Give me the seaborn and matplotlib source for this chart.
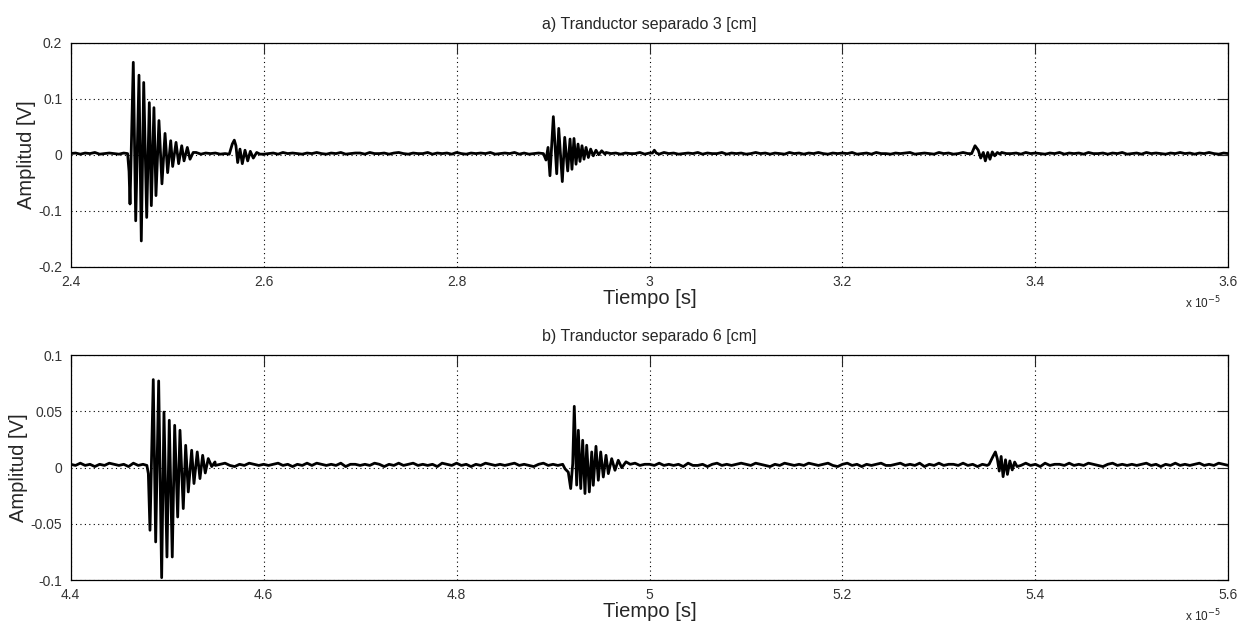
import numpy as np
import pandas as pd
import matplotlib
matplotlib.use('Agg')
import matplotlib.pyplot as plt
import seaborn as sns

# ----------------------------------------------------------
# Data (time in units of 1e-5 s, amplitude in V)
# ----------------------------------------------------------
# baseline noise, one value per 0.005 step of the time axis (mV)
top_noise_mv = [2, 3, 1, 3, 2, 4, 1, 2, 3, 2, 1, 3, 2, 4, 2, 1, 3, 2, 3, 1,
                2, 4, 1, 3, 2, 2, 4, 1, 3, 2, 3, 1, 2, 4, 2, 3, 1, 3, 2, 4,
                1, 2, 3, 1, 4, 2, 3, 2, 1, 3, 2, 4, 2, 1, 3, 2, 4, 1, 2, 3,
                3, 1, 4, 2, 2, 3, 1, 3, 4, 2, 1, 3, 2, 2, 4, 1, 3, 2, 3, 1,
                4, 2, 1, 3, 2, 3, 2, 4, 1, 2, 3, 2, 4, 1, 3, 1, 2, 3, 2, 4,
                2, 1, 3, 2, 4, 2, 3, 1, 2, 3, 1, 4, 2, 3, 1, 3, 2, 2, 4, 1,
                3, 2, 1, 4, 2, 3, 1, 2, 3, 2, 4, 1, 3, 2, 2, 4, 1, 3, 2, 3,
                1, 2, 4, 2, 3, 1, 3, 2, 1, 4, 2, 3, 1, 3, 2, 4, 2, 1, 3, 2,
                3, 2, 4, 1, 2, 3, 1, 4, 2, 2, 1, 3, 2, 3, 4, 1, 2, 3, 2, 1,
                4, 2, 3, 1, 2, 4, 2, 3, 1, 3, 2, 1, 3, 4, 2, 2, 3, 1, 4, 2,
                3, 2, 1, 3, 2, 4, 1, 3, 2, 3, 1, 4, 2, 2, 3, 1, 3, 2, 4, 1,
                2, 3, 1, 4, 2, 3, 2, 1, 3, 2, 4, 2, 3, 1, 3, 2, 4, 2, 1, 3, 2]
bottom_noise_mv = [3, 2, 4, 2, 3, 1, 3, 2, 4, 3, 2, 3, 1, 4, 2, 3, 3, 2, 4, 2,
                   3, 1, 3, 2, 4, 3, 2, 3, 2, 4, 2, 3, 4, 2, 1, 3, 2, 4, 3, 2,
                   3, 2, 3, 4, 2, 3, 1, 3, 2, 4, 2, 4, 3, 2, 3, 2, 4, 1, 3, 3,
                   2, 3, 2, 4, 3, 1, 3, 2, 4, 2, 3, 4, 2, 3, 2, 3, 1, 4, 3, 2,
                   4, 2, 3, 1, 3, 2, 4, 3, 2, 3, 2, 3, 4, 2, 3, 2, 1, 3, 4, 2,
                   3, 2, 3, 2, 4, 3, 2, 3, 1, 4, 2, 4, 3, 2, 3, 1, 3, 4, 2, 3,
                   3, 2, 4, 2, 3, 2, 3, 1, 4, 2, 2, 3, 1, 3, 4, 2, 3, 2, 3, 4,
                   3, 2, 4, 3, 2, 1, 3, 2, 4, 3, 2, 3, 2, 4, 3, 2, 3, 4, 2, 1,
                   3, 4, 2, 3, 1, 3, 2, 3, 4, 2, 2, 3, 4, 2, 3, 2, 4, 1, 3, 2,
                   4, 2, 3, 3, 2, 4, 2, 3, 1, 3, 2, 3, 2, 4, 3, 2, 3, 2, 4, 2,
                   3, 1, 4, 2, 3, 3, 2, 4, 2, 3, 2, 4, 3, 2, 1, 3, 4, 2, 3, 2,
                   3, 2, 3, 4, 2, 3, 1, 3, 2, 4, 2, 3, 2, 3, 4, 2, 3, 2, 4, 3, 2]

# a) 3 cm : echoes
a1_t = [2.4590, 2.4605, 2.4615, 2.4649, 2.4674, 2.4708, 2.4732, 2.4757, 2.4788, 2.4815,
        2.4836, 2.4863, 2.4884, 2.4915, 2.4946, 2.4978, 2.5005, 2.5037, 2.5057, 2.5092,
        2.5119, 2.5151, 2.5175, 2.5209, 2.5237, 2.5270]
a1_v = [0.002, -0.030, -0.088, 0.165, -0.118, 0.142, -0.154, 0.129, -0.112, 0.093,
        -0.091, 0.084, -0.073, 0.061, -0.052, 0.038, -0.032, 0.025, -0.021, 0.022,
        -0.016, 0.016, -0.011, 0.013, -0.008, 0.004]
a2_t = [2.5644, 2.5675, 2.5696, 2.5713, 2.5731, 2.5755, 2.5779, 2.5807, 2.5835, 2.5862,
        2.5893, 2.5928, 2.5962]
a2_v = [0.001, 0.019, 0.026, 0.016, -0.014, 0.010, -0.016, 0.008, -0.011, 0.006,
        -0.006, 0.004, 0.001]
a3_t = [2.8900, 2.8927, 2.8948, 2.8968, 2.9003, 2.9038, 2.9059, 2.9096, 2.9121, 2.9152,
        2.9176, 2.9196, 2.9217, 2.9238, 2.9259, 2.9279, 2.9300, 2.9321, 2.9342, 2.9366,
        2.9390, 2.9417, 2.9445, 2.9473, 2.9504, 2.9539]
a3_v = [0.002, -0.0095, 0.013, -0.0375, 0.068, -0.034, 0.047, -0.048, 0.031, -0.029,
        0.028, -0.026, 0.029, -0.017, 0.019, -0.012, 0.016, -0.008, 0.013, -0.005,
        0.010, -0.002, 0.008, 0.000, 0.007, 0.001]
a4_t = [3.0030, 3.0050, 3.0070]
a4_v = [0.003, 0.008, 0.003]
a5_t = [3.3307, 3.3339, 3.3374, 3.3408, 3.3433, 3.3460, 3.3481, 3.3506, 3.3529, 3.3553,
        3.3578, 3.3605, 3.3633]
a5_v = [0.002, 0.002, 0.016, 0.008, -0.006, 0.004, -0.011, 0.004, -0.008, 0.005,
        -0.002, 0.004, 0.001]

# b) 6 cm
b1_t = [4.4790, 4.4805, 4.4822, 4.4856, 4.4881, 4.4912, 4.4943, 4.4967, 4.4998, 4.5022,
        4.5053, 4.5078, 4.5109, 4.5133, 4.5167, 4.5192, 4.5219, 4.5254, 4.5278, 4.5312,
        4.5340, 4.5368, 4.5395, 4.5426, 4.5462, 4.5496]
b1_v = [0.002, -0.0053, -0.0557, 0.0784, -0.0661, 0.0772, -0.0979, 0.0495, -0.0795, 0.0422,
        -0.0795, 0.0377, -0.0439, 0.0333, -0.0364, 0.0199, -0.0216, 0.0155, -0.0141, 0.0140,
        -0.0097, 0.0110, -0.0047, 0.0081, 0.0010, 0.0051]
b2_t = [4.9124, 4.9158, 4.9183, 4.9204, 4.9220, 4.9245, 4.9262, 4.9287, 4.9307, 4.9331,
        4.9349, 4.9376, 4.9401, 4.9417, 4.9445, 4.9469, 4.9494, 4.9521, 4.9549, 4.9573,
        4.9608, 4.9642, 4.9676, 4.9712, 4.9756]
b2_v = [-0.001, -0.004, -0.0186, 0.0036, 0.0546, -0.0155, 0.0333, -0.0186, 0.0244, -0.0230,
        0.0200, -0.0216, 0.0140, -0.0157, 0.0190, -0.0112, 0.0140, -0.0083, 0.0110, -0.0053,
        0.0080, -0.0023, 0.0066, 0.0000, 0.0052]
b3_t = [5.3520, 5.3560, 5.3585, 5.3605, 5.3625, 5.3645, 5.3665, 5.3690, 5.3710, 5.3735,
        5.3760, 5.3785, 5.3810]
b3_v = [0.003, 0.010, 0.014, 0.008, -0.003, 0.010, -0.008, 0.007, -0.006, 0.006,
        -0.002, 0.005, 0.001]

top_xticks = [2.4, 2.6, 2.8, 3.0, 3.2, 3.4, 3.6]
top_yticks = [-0.2, -0.1, 0, 0.1, 0.2]
bottom_xticks = [4.4, 4.6, 4.8, 5.0, 5.2, 5.4, 5.6]
bottom_yticks = [-0.1, -0.05, 0, 0.05, 0.1]


def build_trace(t0, t1, noise_mv, bursts):
    base_t = np.linspace(t0, t1, len(noise_mv))
    base_v = np.array(noise_mv) * 1e-3
    keep = np.ones(len(base_t), dtype=bool)
    for bt, _ in bursts:
        keep &= ~((base_t >= bt[0]) & (base_t <= bt[-1]))
    t = np.concatenate([base_t[keep]] + [np.array(bt) for bt, _ in bursts])
    v = np.concatenate([base_v[keep]] + [np.array(bv) for _, bv in bursts])
    df = pd.DataFrame({'t': t, 'v': v}).sort_values('t')
    return df


top_df = build_trace(2.4, 3.6, top_noise_mv,
                     [(a1_t, a1_v), (a2_t, a2_v), (a3_t, a3_v), (a4_t, a4_v), (a5_t, a5_v)])
bottom_df = build_trace(4.4, 5.6, bottom_noise_mv,
                        [(b1_t, b1_v), (b2_t, b2_v), (b3_t, b3_v)])

# ----------------------------------------------------------
# Plot
# ----------------------------------------------------------
sns.set_style('white')
plt.rcParams['font.family'] = ['Liberation Sans', 'DejaVu Sans']

fig = plt.figure(figsize=(12.51, 6.28), dpi=100)
ax1 = fig.add_axes([0.0565, 0.5753, 0.9254, 0.3567])
ax2 = fig.add_axes([0.0565, 0.0764, 0.9254, 0.3578])

panels = [
    (ax1, top_df, top_xticks, top_yticks, 'a) Tranductor separado 3 [cm]'),
    (ax2, bottom_df, bottom_xticks, bottom_yticks, 'b) Tranductor separado 6 [cm]'),
]

for ax, df, xt, yt, title in panels:
    sns.lineplot(data=df, x='t', y='v', ax=ax, color='black', linewidth=2.0,
                 estimator=None, sort=False)
    ax.set_xlim(xt[0], xt[-1])
    ax.set_ylim(yt[0], yt[-1])
    ax.set_xticks(xt)
    ax.set_yticks(yt)
    ax.set_xticklabels([f'{x:g}' for x in xt])
    ax.set_yticklabels([f'{y:g}' for y in yt])
    ax.tick_params(direction='in', top=True, right=True, length=8, width=0.8,
                   labelsize=10, labelcolor='#333333', pad=6)
    ax.grid(True, color='black', linestyle=(0, (1, 3)), linewidth=0.8)
    for s in ax.spines.values():
        s.set_color('black')
        s.set_linewidth(0.9)
    ax.set_xlabel('Tiempo [s]', fontsize=14.5, labelpad=0)
    ax.set_ylabel('Amplitud [V]', fontsize=14.5, labelpad=2)
    ax.set_title(title, fontsize=11.5, pad=10)
    ax.text(0.993, -0.16, r'x 10$^{-5}$', transform=ax.transAxes, ha='right',
            va='center', fontsize=8.5)

fig.savefig('out.png', dpi=100)
